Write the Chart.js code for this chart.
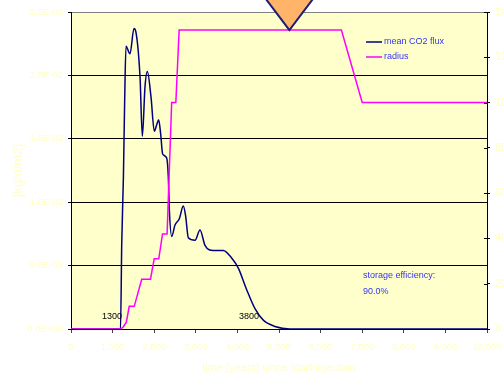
<!DOCTYPE html>
<html>
<head>
<meta charset="utf-8">
<script src="https://cdn.jsdelivr.net/npm/chart.js@4"></script>
<style>
  html, body { margin: 0; padding: 0; background: #ffffff; }
  #wrap { width: 504px; height: 378px; }
</style>
</head>
<body>
<div id="wrap"><canvas id="chart" width="504" height="378"></canvas></div>
<script>
// Mean CO2 flux at the surface [kg/d/m2] over time since start of injection
const fluxYears = [0, 1190, 1220, 1260, 1290, 1322, 1418, 1514, 1562, 1659, 1715, 1779, 1835, 1923,
  2003, 2060, 2107, 2155, 2203, 2299, 2339, 2364, 2420, 2500, 2604, 2700, 2756, 2820, 2981, 3101,
  3221, 3421, 3661, 3862, 4022, 4223, 4423, 4623, 4904, 5264, 10000];
const fluxValues = [0, 0, 0.0068, 0.0120, 0.0180, 0.0223, 0.0217, 0.0237, 0.0234, 0.0199, 0.0152,
  0.0191, 0.0203, 0.0183, 0.0156, 0.0161, 0.0165, 0.0154, 0.0138, 0.0135, 0.0120, 0.0094, 0.0073,
  0.0082, 0.0087, 0.0097, 0.0089, 0.0072, 0.0070, 0.0078, 0.0066, 0.0062, 0.0062, 0.0056, 0.0048,
  0.0031, 0.0016, 0.0007, 0.0002, 0, 0];

// Radius of the flux area (right axis)
const radiusYears = [0, 1200, 1260, 1330, 1400, 1520, 1700, 1910, 2000, 2110, 2200, 2310, 2420,
  2520, 2600, 6500, 7000, 10000];
const radiusValues = [0, 0, 1, 3, 10, 10, 22, 22, 31, 31, 42, 42, 100, 100, 132, 132, 100, 100];

// Axis ranges and tick steps
const xTicks = { min: 0, max: 10000, step: 1000 };
const fluxTicks = { min: 0, max: 0.025, step: 0.005 };
const radiusTicks = { min: 0, max: 140, step: 20 };

// Annotations
const markLabels = ['1300', '3800'];
const efficiencyLines = ['storage efficiency:', '90.0%'];
const marker = { year: 5250, radius: 132 };

const FONT = "'Liberation Sans', Arial, sans-serif";
const PALE = '#ffffc0';
const BLUE_TEXT = '#3535f5';

function sci(v) {
  if (Math.abs(v) < 1e-12) return '0.0E+00';
  const parts = v.toExponential(1).split('e');
  const n = parseInt(parts[1], 10);
  return parts[0] + 'E' + (n < 0 ? '-' : '+') + String(Math.abs(n)).padStart(2, '0');
}

const toPoints = (xs, ys) => xs.map((x, i) => ({ x: x, y: ys[i] }));

const plotBackground = {
  id: 'plotBackground',
  beforeDraw(chart) {
    const { ctx, chartArea: a } = chart;
    ctx.save();
    ctx.fillStyle = '#ffffcc';
    ctx.fillRect(a.left, a.top, a.right - a.left, a.bottom - a.top);
    ctx.restore();
  }
};

const overlay = {
  id: 'overlay',
  afterDraw(chart) {
    const { ctx, chartArea: a, scales } = chart;
    const xs = scales.x, r = scales.y2;
    ctx.save();

    // inner halves of the right-axis tick marks
    ctx.strokeStyle = '#000';
    ctx.lineWidth = 1;
    r.ticks.forEach(t => {
      const y = Math.round(r.getPixelForValue(t.value)) + 0.5;
      ctx.beginPath();
      ctx.moveTo(a.right - 3, y);
      ctx.lineTo(a.right, y);
      ctx.stroke();
    });

    // legend
    ctx.font = '9px ' + FONT;
    ctx.textBaseline = 'middle';
    ctx.textAlign = 'left';
    chart.data.datasets.forEach((ds, i) => {
      const y = 42 + i * 15;
      ctx.strokeStyle = ds.borderColor;
      ctx.lineWidth = 1.5;
      ctx.beginPath();
      ctx.moveTo(366, y);
      ctx.lineTo(382, y);
      ctx.stroke();
      ctx.fillStyle = BLUE_TEXT;
      ctx.fillText(ds.label, 384, y);
    });

    // storage efficiency note
    efficiencyLines.forEach((s, i) => ctx.fillText(s, 363, 276 + i * 16));

    // time labels near the curve foot
    ctx.fillStyle = '#000';
    ctx.textAlign = 'right';
    ctx.fillText(markLabels[0], xs.getPixelForValue(1300) - 3, 317);
    ctx.textAlign = 'left';
    ctx.fillText(markLabels[1], xs.getPixelForValue(3800) + 10, 317);

    // position marker
    const tx = xs.getPixelForValue(marker.year);
    const ty = r.getPixelForValue(marker.radius);
    ctx.beginPath();
    ctx.moveTo(tx, ty);
    ctx.lineTo(tx - 34, ty - 45);
    ctx.lineTo(tx + 34, ty - 45);
    ctx.closePath();
    ctx.fillStyle = '#ffb469';
    ctx.fill();
    ctx.strokeStyle = '#1d1d78';
    ctx.lineWidth = 2;
    ctx.lineJoin = 'miter';
    ctx.stroke();

    ctx.restore();
  }
};

new Chart(document.getElementById('chart'), {
  type: 'line',
  data: {
    datasets: [
      {
        label: 'mean CO2 flux',
        data: toPoints(fluxYears, fluxValues),
        yAxisID: 'y',
        borderColor: '#000080',
        borderWidth: 1.5,
        pointRadius: 0,
        cubicInterpolationMode: 'monotone',
        order: 1
      },
      {
        label: 'radius',
        data: toPoints(radiusYears, radiusValues),
        yAxisID: 'y2',
        borderColor: '#ff00ff',
        borderWidth: 1.5,
        pointRadius: 0,
        tension: 0,
        order: 0
      }
    ]
  },
  options: {
    responsive: false,
    animation: false,
    events: [],
    layout: { padding: { top: 12, left: 0, right: 0, bottom: 0 } },
    plugins: { legend: { display: false }, tooltip: { enabled: false } },
    scales: {
      x: {
        type: 'linear',
        min: xTicks.min, max: xTicks.max,
        afterFit(s) { s.height = 49; s.paddingLeft = 0; s.paddingRight = 0; },
        ticks: { stepSize: xTicks.step, color: PALE, font: { family: FONT, size: 9.5 }, padding: 9, maxRotation: 0 },
        grid: { drawOnChartArea: false, drawTicks: true, tickLength: 4, tickColor: '#444' },
        border: { display: true, color: '#000', width: 1 },
        title: { display: true, text: 'time [years] since start injection', color: PALE,
                 font: { family: FONT, size: 11 }, padding: { top: 0, bottom: 3 } }
      },
      y: {
        position: 'left',
        min: fluxTicks.min, max: fluxTicks.max,
        afterFit(s) { s.width = 71; },
        ticks: { stepSize: fluxTicks.step, color: PALE, font: { family: FONT, size: 9.5 }, padding: 5,
                 callback: v => sci(v) },
        grid: {
          drawOnChartArea: true, drawTicks: true, tickLength: 3,
          color: c => (Math.abs(c.tick.value - fluxTicks.max) < 1e-9 ? '#808080' : '#000'),
          tickColor: '#000'
        },
        border: { display: true, color: '#000', width: 1 },
        title: { display: true, text: '[kg/d/m2]', color: PALE,
                 font: { family: FONT, size: 13 }, padding: { top: 11, bottom: 0 } }
      },
      y2: {
        position: 'right',
        min: radiusTicks.min, max: radiusTicks.max,
        afterFit(s) { s.width = 17; },
        ticks: { stepSize: radiusTicks.step, color: PALE, font: { family: FONT, size: 11 }, padding: 5 },
        grid: { drawOnChartArea: false, drawTicks: true, tickLength: 3, tickColor: '#000' },
        border: { display: true, color: '#000', width: 1 }
      }
    }
  },
  plugins: [plotBackground, overlay]
});
</script>
</body>
</html>
